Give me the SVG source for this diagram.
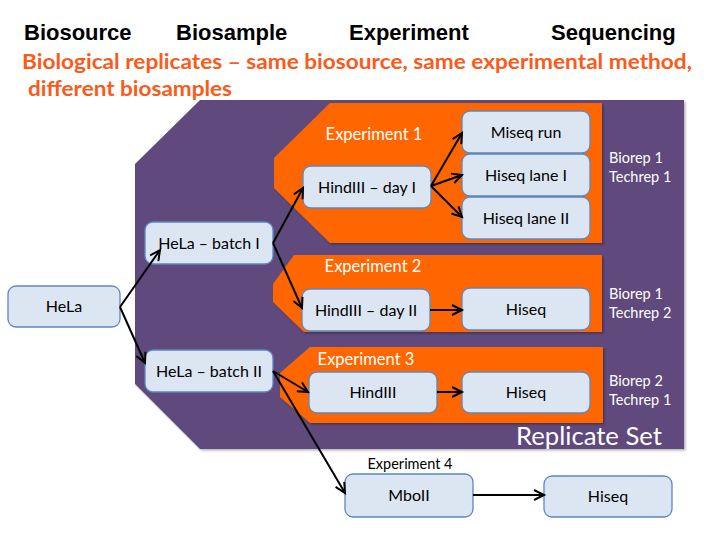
<svg xmlns="http://www.w3.org/2000/svg" width="720" height="540" viewBox="0 0 720 540">
<defs>
<style>
.hdr{font-family:"Liberation Sans",Arial,sans-serif;font-weight:bold;font-size:22px;fill:#000}
.sub{font-family:Lato,"Open Sans",sans-serif;font-weight:bold;font-size:20.5px;fill:#FA5A1A}
.node rect{fill:#DCE6F2;stroke:#5B87C0;stroke-width:1.3}
.node text{font-family:Lato,"Open Sans",sans-serif;font-size:16px;fill:#000;text-anchor:middle}
.wt{font-family:Lato,"Open Sans",sans-serif;fill:#fff}
.exp{fill:#FF6600}
.conn line{stroke:#000;stroke-width:2;marker-end:url(#arr)}
</style>
<marker id="arr" markerUnits="userSpaceOnUse" markerWidth="14" markerHeight="14" refX="11" refY="6" orient="auto">
<path d="M1,1 L11,6 L1,11" fill="none" stroke="#000" stroke-width="2"/>
</marker>
<filter id="sh" x="-5%" y="-5%" width="110%" height="110%">
<feDropShadow dx="1.5" dy="1.5" stdDeviation="1.2" flood-color="#000" flood-opacity="0.3"/>
</filter>
</defs>
<rect width="720" height="540" fill="#fff"/>
<g id="headers">
<text class="hdr" x="24" y="40">Biosource</text>
<text class="hdr" x="176" y="40">Biosample</text>
<text class="hdr" x="349" y="40">Experiment</text>
<text class="hdr" x="551" y="40">Sequencing</text>
<text class="sub" x="22" y="69" textLength="670" lengthAdjust="spacingAndGlyphs">Biological replicates – same biosource, same experimental method,</text>
<text class="sub" x="28" y="96" textLength="204" lengthAdjust="spacingAndGlyphs">different biosamples</text>
</g>
<g id="replicate-set">
<polygon points="200,100 684,100 684,449 200,449 135,384 135,164" fill="#604A7B" filter="url(#sh)"/>
<text class="wt" x="662" y="445" font-size="25" text-anchor="end" textLength="146" lengthAdjust="spacingAndGlyphs">Replicate Set</text>
</g>
<g id="experiment1">
<polygon class="exp" points="330,103 602,103 602,243 330,243 274,188 274,158" filter="url(#sh)"/>
<text class="wt" x="374" y="140" font-size="16.5" text-anchor="middle">Experiment 1</text>
<text class="wt" x="609" y="163" font-size="14.5">Biorep 1</text>
<text class="wt" x="609" y="182" font-size="14.5">Techrep 1</text>
</g>
<g id="experiment2">
<polygon class="exp" points="294,255 602,255 602,332 304,332 273,302 273,284" filter="url(#sh)"/>
<text class="wt" x="373" y="272" font-size="16.5" text-anchor="middle">Experiment 2</text>
<text class="wt" x="609" y="299" font-size="14.5">Biorep 1</text>
<text class="wt" x="609" y="318" font-size="14.5">Techrep 2</text>
</g>
<g id="experiment3">
<polygon class="exp" points="310,347 603,347 603,423 310,423 280,397 280,373" filter="url(#sh)"/>
<text class="wt" x="366" y="365" font-size="16.5" text-anchor="middle">Experiment 3</text>
<text class="wt" x="609" y="386" font-size="14.5">Biorep 2</text>
<text class="wt" x="609" y="405" font-size="14.5">Techrep 1</text>
</g>
<g id="experiment4">
<text x="410" y="469" font-family="Lato,'Open Sans',sans-serif" font-size="14.5" text-anchor="middle" fill="#000">Experiment 4</text>
</g>
<g id="hela" class="node"><rect x="8" y="286" width="112" height="41" rx="8"/><text x="64" y="312">HeLa</text></g>
<g id="hela-batch1" class="node"><rect x="145" y="222" width="128" height="42" rx="8"/><text x="209" y="249">HeLa – batch I</text></g>
<g id="hela-batch2" class="node"><rect x="145" y="350" width="128" height="42" rx="8"/><text x="209" y="377">HeLa – batch II</text></g>
<g id="hindiii-day1" class="node"><rect x="303" y="166" width="128" height="42" rx="8"/><text x="367" y="193">HindIII – day I</text></g>
<g id="miseq-run" class="node"><rect x="462" y="111" width="128" height="42" rx="8"/><text x="526" y="138">Miseq run</text></g>
<g id="hiseq-lane1" class="node"><rect x="462" y="154" width="128" height="42" rx="8"/><text x="526" y="181">Hiseq lane I</text></g>
<g id="hiseq-lane2" class="node"><rect x="462" y="197" width="128" height="42" rx="8"/><text x="526" y="224">Hiseq lane II</text></g>
<g id="hindiii-day2" class="node"><rect x="302" y="289" width="128" height="42" rx="8"/><text x="366" y="316">HindIII – day II</text></g>
<g id="hiseq-exp2" class="node"><rect x="462" y="288" width="128" height="42" rx="8"/><text x="526" y="315">Hiseq</text></g>
<g id="hindiii-exp3" class="node"><rect x="309" y="372" width="128" height="41" rx="8"/><text x="373" y="398">HindIII</text></g>
<g id="hiseq-exp3" class="node"><rect x="462" y="372" width="128" height="41" rx="8"/><text x="526" y="398">Hiseq</text></g>
<g id="mboll" class="node"><rect x="345" y="474" width="128" height="43" rx="8"/><text x="409" y="501">MboII</text></g>
<g id="hiseq-exp4" class="node"><rect x="544" y="476" width="128" height="41" rx="8"/><text x="608" y="502">Hiseq</text></g>
<g id="connectors" class="conn">
<line x1="120" y1="307" x2="160" y2="250"/>
<line x1="120" y1="307" x2="145" y2="363"/>
<line x1="273" y1="243" x2="303" y2="188"/>
<line x1="273" y1="243" x2="302" y2="308"/>
<line x1="431" y1="186" x2="462" y2="133"/>
<line x1="431" y1="186" x2="462" y2="175"/>
<line x1="431" y1="186" x2="462" y2="217"/>
<line x1="430" y1="310" x2="462" y2="310"/>
<line x1="273" y1="371" x2="308" y2="392"/>
<line x1="273" y1="371" x2="345" y2="493"/>
<line x1="437" y1="392" x2="462" y2="392"/>
<line x1="473" y1="495" x2="544" y2="495"/>
</g>
</svg>
